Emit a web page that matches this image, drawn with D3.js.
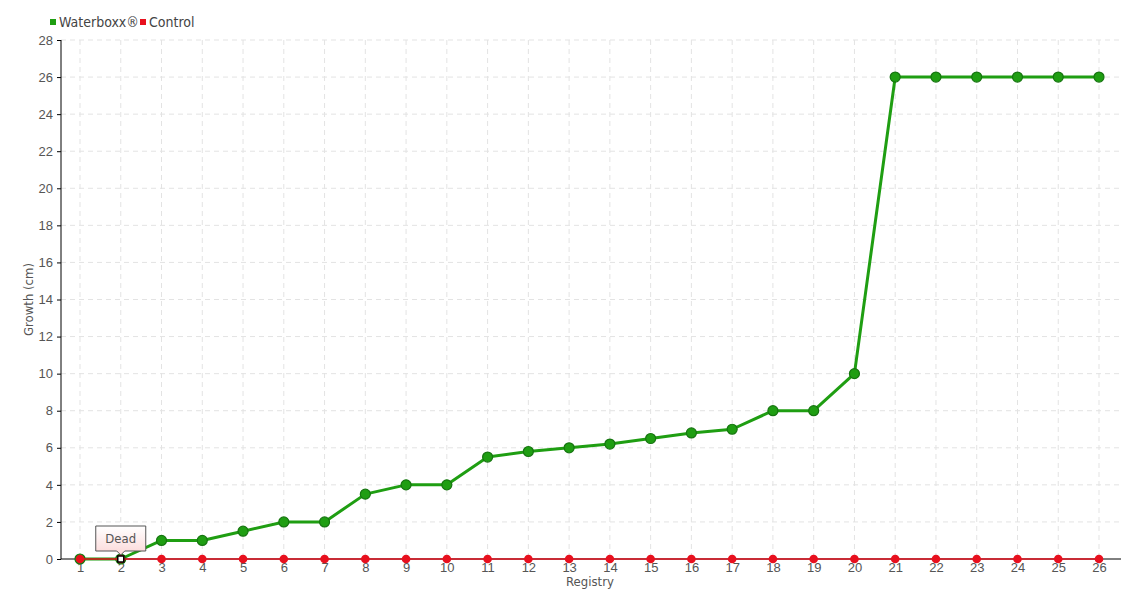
<!DOCTYPE html>
<html><head><meta charset="utf-8">
<script src="https://cdn.jsdelivr.net/npm/d3@7"></script>
<style>
body{margin:0;background:#fff;}
svg{font-family:"DejaVu Sans Condensed","Liberation Sans Narrow","Roboto",sans-serif;}
</style></head>
<body><svg id="c" width="1140" height="600"></svg>
<script>
const registry = [1,2,3,4,5,6,7,8,9,10,11,12,13,14,15,16,17,18,19,20,21,22,23,24,25,26];
const waterboxx = [0,0,1,1,1.5,2,2,3.5,4,4,5.5,5.8,6,6.2,6.5,6.8,7,8,8,10,26,26,26,26,26,26];
const control = [0,0,0,0,0,0,0,0,0,0,0,0,0,0,0,0,0,0,0,0,0,0,0,0,0,0];
const yTicks = [0,2,4,6,8,10,12,14,16,18,20,22,24,26,28];
const seriesNames = ["Waterboxx®","Control"];
const deadIndex = 1;
const deadLabel = "Dead";

const svg = d3.select("#c");
const x = d3.scaleLinear().domain([1,26]).range([80,1099]);
const y = d3.scaleLinear().domain([0,28]).range([559,40]);
const left = 61, right = 1121;

// grid
const g = svg.append("g");
g.selectAll(".hg").data(yTicks.filter(d=>d>0)).enter().append("line")
  .attr("x1",left).attr("x2",right).attr("y1",d=>y(d)).attr("y2",d=>y(d))
  .attr("stroke","#e3e3e3").attr("stroke-dasharray","5,4");
g.selectAll(".vg").data(registry).enter().append("line")
  .attr("x1",d=>x(d)).attr("x2",d=>x(d)).attr("y1",y(28)).attr("y2",y(0))
  .attr("stroke","#e3e3e3").attr("stroke-dasharray","5,4");

// axes
const yAxis = svg.append("g").attr("transform",`translate(${left},0)`)
  .call(d3.axisLeft(y).tickValues(yTicks).tickSize(4).tickPadding(4));
yAxis.select(".domain").attr("d",`M0,${y(28)}V${y(0)}`).attr("stroke","#000");
yAxis.selectAll(".tick line").attr("stroke","#000");
yAxis.selectAll("text").attr("fill","#555").attr("font-size",13);

const xAxis = svg.append("g").attr("transform",`translate(0,${y(0)})`)
  .call(d3.axisBottom(x).tickValues(registry).tickFormat(d3.format("d")).tickSize(0).tickPadding(4));
xAxis.select(".domain").attr("d",`M${left},0H${right}`).attr("stroke","#000");
xAxis.selectAll("text").attr("fill","#555").attr("font-size",13);

svg.append("text").attr("transform",`translate(33,${(y(0)+y(28))/2}) rotate(-90)`)
  .attr("text-anchor","middle").attr("fill","#555").attr("font-size",13).text("Growth (cm)");
svg.append("text").attr("x",590).attr("y",586).attr("text-anchor","middle")
  .attr("fill","#555").attr("font-size",13).text("Registry");

// lines
const line = d3.line().x((d,i)=>x(registry[i])).y(d=>y(d));
svg.append("path").datum(waterboxx).attr("d",line).attr("fill","none")
  .attr("stroke","#1f9e12").attr("stroke-width",3).attr("stroke-linejoin","round");
svg.selectAll(".gp").data(waterboxx).enter().append("circle")
  .attr("cx",(d,i)=>x(registry[i])).attr("cy",d=>y(d)).attr("r",5)
  .attr("fill","#1f9e12").attr("stroke","#167510").attr("stroke-width",1.2);
svg.append("path").datum(control).attr("d",line).attr("fill","none")
  .attr("stroke","#e0101e").attr("stroke-width",1.5);
svg.selectAll(".rp").data(control).enter().append("circle")
  .attr("cx",(d,i)=>x(registry[i])).attr("cy",d=>y(d)).attr("r",4.3)
  .attr("fill","#e8101e");

// dead marker
const dx = x(registry[deadIndex]), dy = y(waterboxx[deadIndex]);
svg.append("rect").attr("x",dx-3).attr("y",dy-3).attr("width",6).attr("height",6)
  .attr("fill","#fff").attr("stroke","#000").attr("stroke-width",1.5);
const grad = svg.append("defs").append("linearGradient").attr("id","tg").attr("x1",0).attr("y1",0).attr("x2",0).attr("y2",1);
grad.append("stop").attr("offset","0%").attr("stop-color","#fff");
grad.append("stop").attr("offset","100%").attr("stop-color","#fcd8d8");
const bx = dx-25, by = dy-33, bw = 50, bh = 25;
svg.append("path")
  .attr("d",`M${bx},${by}H${bx+bw}V${by+bh}H${dx+4}L${dx},${dy-4}L${dx-4},${by+bh}H${bx}Z`)
  .attr("fill","url(#tg)").attr("stroke","#555").attr("stroke-width",1);
svg.append("text").attr("x",dx).attr("y",by+17).attr("text-anchor","middle")
  .attr("fill","#555").attr("font-size",13).text(deadLabel);

// legend
const colors = ["#1f9e12","#e8101e"];
const lx = [50,140];
seriesNames.forEach((n,i)=>{
  svg.append("rect").attr("x",lx[i]).attr("y",19).attr("width",6).attr("height",6).attr("fill",colors[i]);
  svg.append("text").attr("x",lx[i]+9).attr("y",27).attr("fill","#444").attr("font-size",14).text(n);
});
</script></body></html>
